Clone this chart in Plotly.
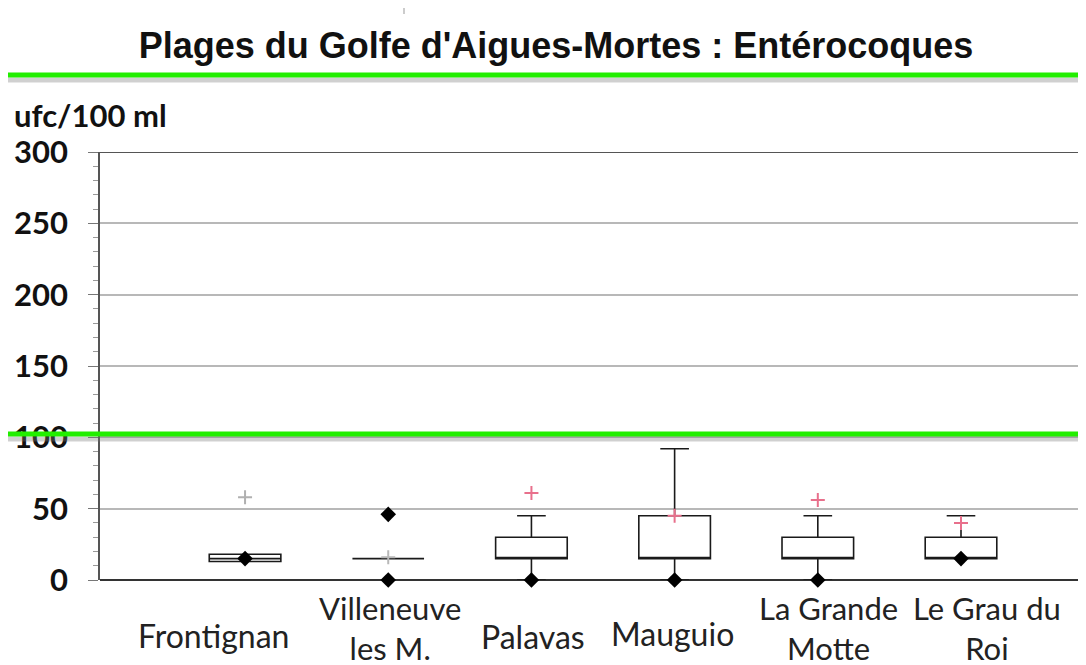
import plotly.graph_objects as go

# Plages du Golfe d'Aigues-Mortes - enterocoques (ufc/100 ml)
plages = ["Frontignan", "Villeneuve<br>les M.", "Palavas", "Mauguio",
          "La Grande<br>Motte", "Le Grau du<br>Roi"]
q1 = [13, 15, 15, 15, 15, 15]
mediane = [15, 15, 15, 15, 15, 15]
q3 = [18, 15, 30, 45, 30, 30]
whisker_bas = [13, 15, 0, 0, 0, 15]
whisker_haut = [18, 15, 45, 92, 45, 45]
moyenne = [58, 16, 61, 45, 56, 40]
couleur_moyenne = ["#b0b0b0", "#b8b8b8", "#e8708c", "#e8708c", "#e8708c", "#e8708c"]
minimum = [15, 0, 0, 0, 0, 15]
maximum_isole = [None, 46, None, None, None, None]

# label placement tweaks (pixels)
label_dx = [-32, 2, 2, -2, 11, 26]
label_dy = [-55, -48, -56, -53, -48, -48]

pos = list(range(len(plages)))

# the page body has an 8px margin, so the figure is laid out 8px up/left
W, H = 1086, 665
ML, MR, MT, MB = 92, 8, 144, 93
plot_h = H - MT - MB
plot_w = W - ML - MR

fig = go.Figure()

for i in pos:
    fig.add_trace(go.Box(
        x=[i],
        q1=[q1[i]], median=[mediane[i]], q3=[q3[i]],
        lowerfence=[whisker_bas[i]], upperfence=[whisker_haut[i]],
        width=0.5, whiskerwidth=0.4,
        fillcolor="rgba(255,255,255,0)",
        line=dict(color="#1a1a1a", width=1.6),
        boxpoints=False, hoverinfo="skip", showlegend=False,
    ))

fig.add_trace(go.Scatter(
    x=pos, y=minimum, mode="markers",
    marker=dict(symbol="diamond", size=12, color="black"),
    showlegend=False, cliponaxis=False,
))
fig.add_trace(go.Scatter(
    x=pos, y=maximum_isole, mode="markers",
    marker=dict(symbol="diamond", size=12, color="black"),
    showlegend=False,
))
fig.add_trace(go.Scatter(
    x=pos, y=moyenne, mode="markers",
    marker=dict(symbol="cross-thin", size=10, color=couleur_moyenne,
                line=dict(width=2, color=couleur_moyenne)),
    showlegend=False,
))

for i, lab in enumerate(plages):
    fig.add_annotation(
        x=i, y=0, xref="x", yref="y", text=lab, showarrow=False,
        xshift=label_dx[i], yshift=label_dy[i],
        font=dict(family="Lato", size=32 if "<br>" not in lab else 31, color="#222"),
        align="center", yanchor="middle",
    )

fig.add_annotation(
    x=-88 / plot_w, y=(580 - 115) / plot_h, xref="paper", yref="paper",
    text="<b>ufc/100 ml</b>", showarrow=False, xanchor="left", yanchor="middle",
    font=dict(family="Lato", size=31, color="#111"),
)

# green highlight strokes across the picture + their soft shadow
for ypix in [75, 434]:
    yp = (580 - ypix) / plot_h
    ys = (580 - ypix - 5) / plot_h
    fig.add_shape(type="line", xref="paper", yref="paper", x0=-0.2, x1=1.02,
                  y0=ys, y1=ys, line=dict(color="rgba(120,120,120,0.35)", width=5),
                  layer="above")
    fig.add_shape(type="line", xref="paper", yref="paper", x0=-0.2, x1=1.02,
                  y0=yp, y1=yp, line=dict(color="#22ee00", width=5), layer="above")

# small stroke at the top of the scan
fig.add_shape(type="line", xref="paper", yref="paper",
              x0=304 / plot_w, x1=304 / plot_w, y0=(580 - 14) / plot_h,
              y1=(580 - 8) / plot_h, line=dict(color="#bbbbbb", width=1.5))

# top border of plot area
fig.add_shape(type="line", xref="paper", yref="y", x0=0, x1=1, y0=300, y1=300,
              line=dict(color="#555", width=2))

fig.update_layout(
    width=W, height=H,
    margin=dict(l=ML, r=MR, t=MT, b=MB, autoexpand=False),
    paper_bgcolor="white", plot_bgcolor="white",
    title=dict(text="<b>Plages du Golfe d'Aigues-Mortes : Entérocoques</b>",
               x=548 / W, xanchor="center", y=1 - 37 / H, yanchor="middle",
               font=dict(family="Liberation Sans", size=36, color="#111")),
    xaxis=dict(range=[-1.013, 5.873], showticklabels=False, showgrid=False,
               zeroline=False, showline=False, ticks=""),
    yaxis=dict(range=[0, 300], dtick=50, showgrid=True, gridcolor="#b8b8b8",
               gridwidth=1.5, zeroline=True, zerolinecolor="#333", zerolinewidth=2,
               showline=True, linecolor="#555", linewidth=1.5,
               ticks="outside", ticklen=10, tickcolor="#777",
               minor=dict(dtick=10, ticks="outside", ticklen=5, tickcolor="#999",
                          showgrid=False),
               ticklabelstandoff=14,
               tickfont=dict(family="Lato", size=31, color="#111", weight="bold")),
)

fig.write_html("out.html")
